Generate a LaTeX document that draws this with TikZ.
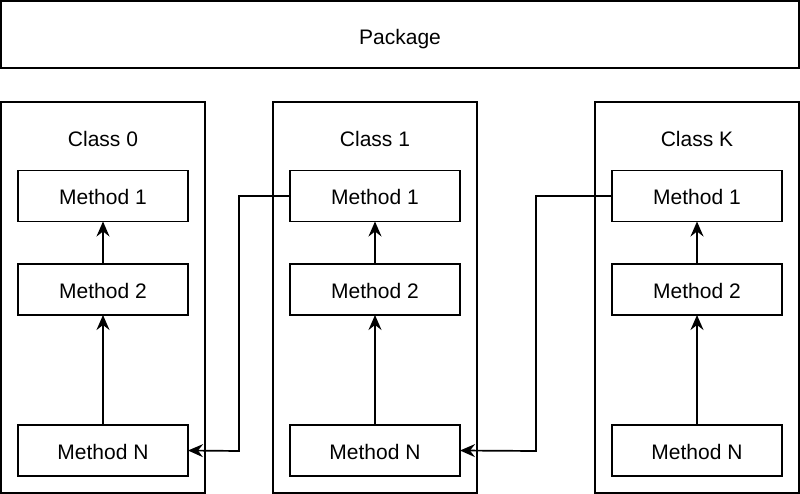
\documentclass[tikz,border=0pt]{standalone}
\usepackage{fontspec}
\setmainfont{Liberation Sans}
\usetikzlibrary{arrows.meta}
\begin{document}
\begin{tikzpicture}[x=1pt,y=-1pt,
  meth/.style={draw=black,line width=1.6pt,minimum width=170pt,minimum height=51pt,inner sep=0pt,outer sep=0pt,text height=18pt,text depth=0pt,font=\fontsize{21}{24}\selectfont},
  conn/.style={line width=1.7pt,-{Stealth[length=15pt,width=13pt,inset=5pt]}},
  lbl/.style={font=\fontsize{21}{24}\selectfont,inner sep=0pt}]
\useasboundingbox (0,0) rectangle (800,494);
\fill[white] (0,0) rectangle (800,494);
\node[draw=black,line width=1.8pt,minimum width=798pt,minimum height=67pt,inner sep=0pt,outer sep=0pt] (pkg) at (400,34.5) {};
\node[lbl] (pkglab) at (400,39) {Package};
\foreach \n/\cx/\t in {c0/103/Class 0, c1/375/Class 1, ck/697/Class K}{
  \node[draw=black,line width=1.8pt,minimum width=204pt,minimum height=391pt,inner sep=0pt,outer sep=0pt] (\n) at (\cx,297.5) {};
  \node[lbl] (\n lab) at (\cx,139) {\t};
  \node[meth] (\n m1) at (\cx,196) {Method 1};
  \node[meth] (\n m2) at (\cx,289.5) {Method 2};
  \node[meth] (\n mn) at (\cx,450.5) {Method N};
  \draw[conn] (\n m2) -- (\n m1);
  \draw[conn] (\n mn) -- (\n m2);
}
\coordinate (a1) at (239,196);
\coordinate (a2) at (239,451);
\coordinate (b1) at (536,196);
\coordinate (b2) at (536,451);
\draw[conn] (c1m1.west) -- (a1) -- (a2) -- (c0mn.east);
\draw[conn] (ckm1.west) -- (b1) -- (b2) -- (c1mn.east);
\end{tikzpicture}
\end{document}
